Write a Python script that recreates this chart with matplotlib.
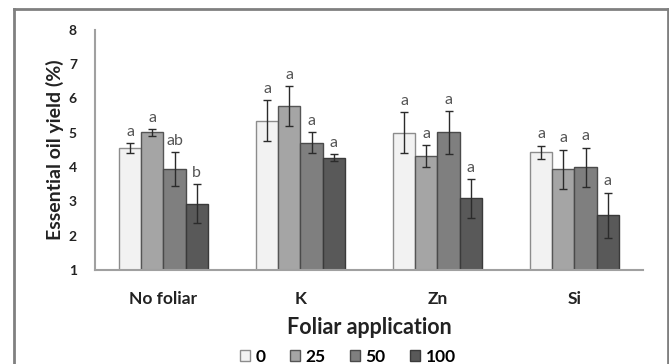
import numpy as np
import matplotlib
matplotlib.use("Agg")
import matplotlib.pyplot as plt
from matplotlib.patches import Patch
from matplotlib.lines import Line2D

# Essential oil yield by foliar application and dose
categories = ["No foliar", "K", "Zn", "Si"]
doses = ["0", "25", "50", "100"]

yield_0 = [4.55, 5.35, 5.00, 4.43]
yield_25 = [5.01, 5.78, 4.32, 3.94]
yield_50 = [3.94, 4.71, 5.01, 3.99]
yield_100 = [2.94, 4.27, 3.09, 2.60]

err_0 = [0.15, 0.60, 0.60, 0.20]
err_25 = [0.09, 0.57, 0.32, 0.57]
err_50 = [0.50, 0.30, 0.63, 0.58]
err_100 = [0.57, 0.10, 0.57, 0.66]

letters_0 = ["a", "a", "a", "a"]
letters_25 = ["a", "a", "a", "a"]
letters_50 = ["ab", "a", "a", "a"]
letters_100 = ["b", "a", "a", "a"]

plt.rcParams['font.family'] = ['Lato', 'DejaVu Sans']

fills = ["#f2f2f2", "#a5a5a5", "#7f7f7f", "#595959"]
edges = ["#8c8c8c", "#555555", "#4a4a4a", "#3a3a3a"]

fig = plt.figure(figsize=(6.69, 3.64), dpi=100)
ax = fig.add_axes([0.142, 0.258, 0.819, 0.66])

x = np.arange(len(categories))
w = 0.162
series = [yield_0, yield_25, yield_50, yield_100]
errs = [err_0, err_25, err_50, err_100]
letters = [letters_0, letters_25, letters_50, letters_100]

for i, (vals, e, lab) in enumerate(zip(series, errs, letters)):
    pos = x + (i - 1.5) * w
    ax.bar(pos, np.array(vals) - 1, bottom=1, width=w, color=fills[i],
           edgecolor=edges[i], linewidth=1.0, zorder=2)
    ax.errorbar(pos, vals, yerr=e, fmt='none', ecolor='#2b2b2b',
                elinewidth=1.0, capsize=3, capthick=1.0, zorder=3)
    for p, v, ee, t in zip(pos, vals, e, lab):
        ax.annotate(t, (p, v + ee), xytext=(0, 3), textcoords='offset points',
                    ha='center', va='bottom', fontsize=11.5, color='#555555')

ax.set_xlim(-0.5, len(categories) - 0.5)
ax.set_ylim(1, 8)
ax.set_yticks(range(1, 9))
ax.set_xticks(x)
ax.set_xticklabels(categories, fontsize=12.5, fontweight='bold', color='#222222')
for t in ax.get_yticklabels():
    t.set_fontsize(10)
    t.set_fontweight('bold')
    t.set_color('#222222')
ax.tick_params(axis='both', length=0)
ax.tick_params(axis='x', pad=15)
ax.tick_params(axis='y', pad=13)

for s in ['top', 'right']:
    ax.spines[s].set_visible(False)
for s in ['left', 'bottom']:
    ax.spines[s].set_color('#a0a0a0')
    ax.spines[s].set_linewidth(1.5)

ax.set_ylabel("Essential oil yield (%)", fontsize=14, fontweight='bold',
              color='#222222')
ax.yaxis.set_label_coords(-0.057, 0.5)
ax.set_xlabel("Foliar application", fontsize=15.5, fontweight='bold',
              color='#222222', labelpad=7)

handles = [Patch(facecolor=fills[i], edgecolor=edges[i], linewidth=1.0) for i in range(4)]
fig.legend(handles, doses, loc='center', bbox_to_anchor=(0.52, 0.02), ncol=4,
           frameon=False, handlelength=0.6, handleheight=0.6, handletextpad=0.3,
           columnspacing=1.4, prop={'size': 12.5, 'weight': 'bold'})

# outer frame (left, top, right)
frame_col = '#808080'
fig.add_artist(Line2D([14 / 669, 14 / 669], [0, 1 - 9 / 364], color=frame_col, lw=2))
fig.add_artist(Line2D([14 / 669, 668 / 669], [1 - 9 / 364, 1 - 9 / 364], color=frame_col, lw=2))
fig.add_artist(Line2D([668 / 669, 668 / 669], [0, 1 - 9 / 364], color=frame_col, lw=2))

fig.savefig("out.png", dpi=100)
